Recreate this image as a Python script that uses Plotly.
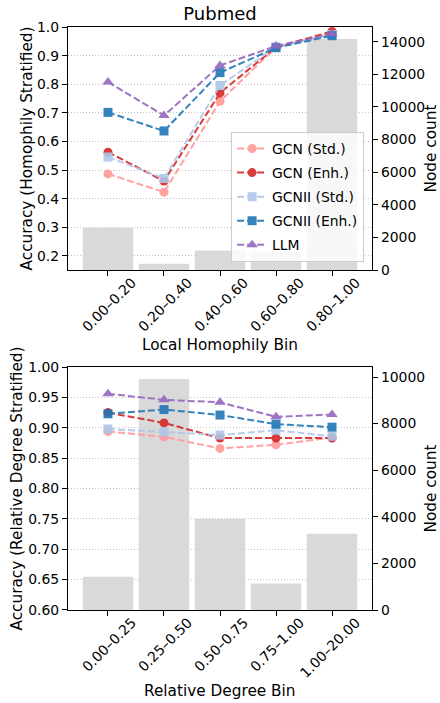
import plotly.graph_objects as go

# ---------------- data ----------------
homo_bins = ["0.00–0.20", "0.20–0.40", "0.40–0.60", "0.60–0.80", "0.80–1.00"]
homo_counts = [2600, 390, 1200, 1150, 14160]
homo_gcn_std = [0.487, 0.423, 0.741, 0.930, 0.977]
homo_gcn_enh = [0.563, 0.462, 0.770, 0.930, 0.985]
homo_gcnii_std = [0.546, 0.471, 0.796, 0.931, 0.974]
homo_gcnii_enh = [0.702, 0.637, 0.841, 0.928, 0.970]
homo_llm = [0.808, 0.691, 0.866, 0.934, 0.977]

deg_bins = ["0.00–0.25", "0.25–0.50", "0.50–0.75", "0.75–1.00", "1.00–20.00"]
deg_counts = [1430, 9910, 3910, 1140, 3270]
deg_gcn_std = [0.894, 0.885, 0.866, 0.872, 0.884]
deg_gcn_enh = [0.925, 0.908, 0.883, 0.883, 0.883]
deg_gcnii_std = [0.898, 0.893, 0.888, 0.896, 0.886]
deg_gcnii_enh = [0.923, 0.930, 0.921, 0.906, 0.901]
deg_llm = [0.956, 0.946, 0.942, 0.918, 0.922]

series_names = ["GCN (Std.)", "GCN (Enh.)", "GCNII (Std.)", "GCNII (Enh.)", "LLM"]

# ---------------- styles ----------------
colors = ["#ff9896", "#d62728", "#aec7e8", "#1f77b4", "#9467bd"]
symbols = ["circle", "circle", "square", "square", "triangle-up"]
FONT = "DejaVu Sans"
TICK = 13.9
LAB = 15.3

fig = go.Figure()

# top panel
fig.add_trace(go.Bar(x=homo_bins, y=homo_counts, xaxis="x", yaxis="y",
                     marker=dict(color="#d9d9d9", line=dict(width=0)),
                     width=0.9, showlegend=False, hoverinfo="skip"))
for name, vals, c, s in zip(series_names,
                            [homo_gcn_std, homo_gcn_enh, homo_gcnii_std, homo_gcnii_enh, homo_llm],
                            colors, symbols):
    fig.add_trace(go.Scatter(x=homo_bins, y=vals, xaxis="x", yaxis="y2", name=name,
                             mode="lines+markers", legendgroup=name, opacity=0.9,
                             line=dict(color=c, width=2, dash="7px,3px"),
                             marker=dict(symbol=s, size=10 if s == "triangle-up" else 9, color=c,
                                         line=dict(width=0))))

# bottom panel
fig.add_trace(go.Bar(x=deg_bins, y=deg_counts, xaxis="x2", yaxis="y3",
                     marker=dict(color="#d9d9d9", line=dict(width=0)),
                     width=0.9, showlegend=False, hoverinfo="skip"))
for name, vals, c, s in zip(series_names,
                            [deg_gcn_std, deg_gcn_enh, deg_gcnii_std, deg_gcnii_enh, deg_llm],
                            colors, symbols):
    fig.add_trace(go.Scatter(x=deg_bins, y=vals, xaxis="x2", yaxis="y4", name=name,
                             mode="lines+markers", legendgroup=name, showlegend=False, opacity=0.9,
                             line=dict(color=c, width=2, dash="7px,3px"),
                             marker=dict(symbol=s, size=10 if s == "triangle-up" else 9, color=c,
                                         line=dict(width=0))))

tickfont = dict(family=FONT, size=TICK, color="black")
labfont = dict(family=FONT, size=LAB, color="black")

common_x = dict(showline=True, linecolor="black", linewidth=1.2, mirror=True,
                ticks="outside", ticklen=5, tickwidth=1.1, tickcolor="black",
                tickangle=-45, tickfont=tickfont, range=[-0.714, 4.714],
                showgrid=False, zeroline=False, ticklabelshift=24, ticklabelstandoff=-7)
count_y = dict(side="right", showline=True, linecolor="black", linewidth=1.2,
               ticks="outside", ticklen=5, tickwidth=1.1, tickcolor="black",
               tickfont=tickfont, showgrid=False, zeroline=False, dtick=2000,
               tickformat="d",
               title=dict(text="Node count", font=labfont, standoff=3))
acc_y = dict(side="left", showline=True, linecolor="black", linewidth=1.2,
             ticks="outside", ticklen=5, tickwidth=1.1, tickcolor="black",
             tickfont=tickfont, showgrid=True, gridcolor="#c4c4c4", gridwidth=0.8,
             griddash="1px,2px", zeroline=False)

top_bottom = (610 - 270) / 583
bot_top = (610 - 367) / 583

fig.update_layout(
    width=440, height=703,
    margin=dict(l=68, r=68, t=27, b=93, autoexpand=False),
    paper_bgcolor="white", plot_bgcolor="white",
    font=dict(family=FONT, color="black"),
    title=dict(text="Pubmed", x=0.5, xanchor="center", y=1 - 14 / 703, yref="container",
               yanchor="middle", font=dict(family=FONT, size=18, color="black")),
    barmode="overlay",
    xaxis=dict(common_x, anchor="y"),
    yaxis=dict(count_y, domain=[top_bottom, 1], anchor="x", range=[0, 14900]),
    yaxis2=dict(acc_y, overlaying="y", anchor="x", range=[0.151, 1.0005], dtick=0.1,
                tick0=0, tickformat=".1f",
                title=dict(text="Accuracy (Homophily Stratified)", font=labfont, standoff=0)),
    xaxis2=dict(common_x, anchor="y3"),
    yaxis3=dict(count_y, domain=[0, bot_top], anchor="x2", range=[0, 10430]),
    yaxis4=dict(acc_y, overlaying="y3", anchor="x2", range=[0.5999, 1.0001], dtick=0.05,
                tick0=0, tickformat=".2f",
                title=dict(text="Accuracy (Relative Degree Stratified)", font=labfont, standoff=1)),
    legend=dict(x=0.974, xanchor="right", y=(610 - 262) / 583, yanchor="bottom",
                bgcolor="rgba(255,255,255,0.8)", bordercolor="#cccccc", borderwidth=1,
                font=dict(family=FONT, size=TICK, color="black"),
                tracegroupgap=3, itemwidth=30),
    showlegend=True,
    annotations=[
        dict(text="Local Homophily Bin", xref="paper", yref="paper", x=0.5,
             y=(610 - 345) / 583, xanchor="center", yanchor="middle",
             showarrow=False, font=labfont),
        dict(text="Relative Degree Bin", xref="paper", yref="paper", x=0.5,
             y=(610 - 691) / 583, xanchor="center", yanchor="middle",
             showarrow=False, font=labfont),
    ],
)

fig.write_html("out.html")
